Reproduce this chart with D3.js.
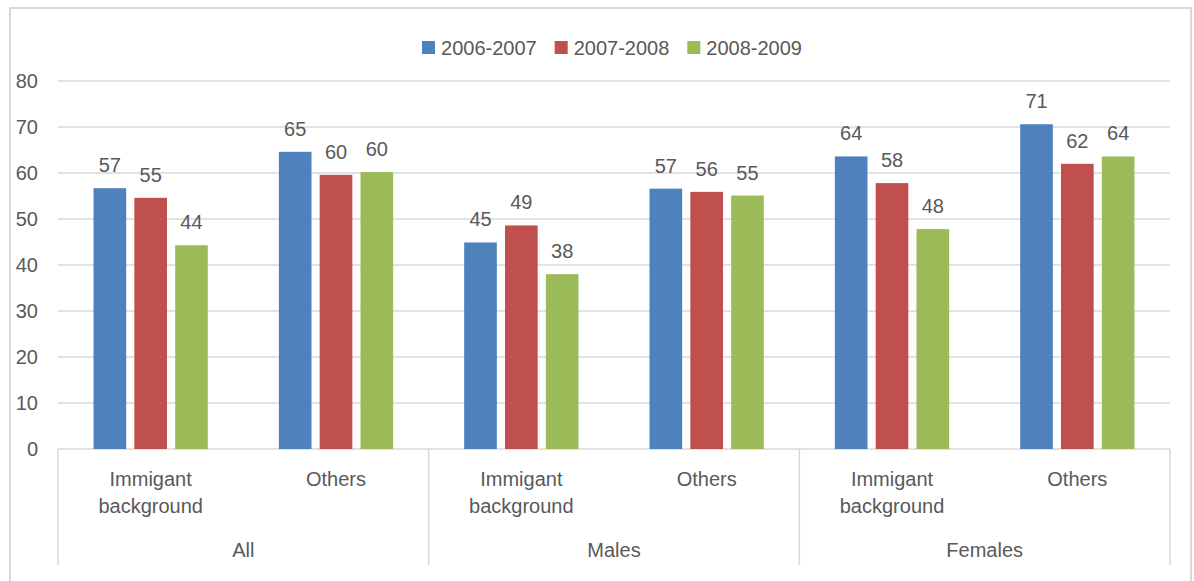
<!DOCTYPE html>
<html>
<head>
    <title>Bars by group</title>
    <meta charset="utf-8">
</head>
<body style="margin:0;background:#fff;">
<style>
    text {
        font-family: "Liberation Sans", Arial, sans-serif;
        fill: #595959;
    }
</style>
<script src="https://d3js.org/d3.v7.min.js"></script>
<script>
    // chart data
    const groups = ['All', 'Males', 'Females'];
    const subgroups = ['Immigant background', 'Others'];
    const seriesNames = ['2006-2007', '2007-2008', '2008-2009'];
    const values0607 = [56.7, 64.6, 44.9, 56.6, 63.6, 70.6];
    const values0708 = [54.6, 59.6, 48.6, 55.9, 57.8, 62.0];
    const values0809 = [44.3, 60.2, 38.0, 55.1, 47.8, 63.6];
    const yTicks = [0, 10, 20, 30, 40, 50, 60, 70, 80];
    const colors = ['#4F81BD', '#C0504D', '#9BBB59'];

    const SIZES = {
        WIDTH: 1194,
        HEIGHT: 581,
        LEFT: 58,
        RIGHT: 1170,
        TOP: 81,
        BOTTOM: 449,
        FONT: 20
    };

    const allSeries = [values0607, values0708, values0809];

    // one slot per (group, subgroup)
    const cats = [];
    groups.forEach(g => subgroups.forEach(s => cats.push(g + '|' + s)));

    const svg = d3.select('body').append('svg')
        .attr('width', SIZES.WIDTH)
        .attr('height', SIZES.HEIGHT);

    // outer frame
    svg.append('rect')
        .attr('x', 10).attr('y', 8)
        .attr('width', 1181).attr('height', 590)
        .attr('fill', 'none')
        .attr('stroke', '#d9d9d9')
        .attr('stroke-width', 2);

    const x = d3.scaleBand().domain(cats).range([SIZES.LEFT, SIZES.RIGHT]);
    const xInner = d3.scaleBand().domain(seriesNames)
        .range([0, x.bandwidth()])
        .paddingInner(0.2)
        .paddingOuter(0.87);
    const y = d3.scaleLinear().domain([0, 80]).range([SIZES.BOTTOM, SIZES.TOP]);

    // gridlines
    svg.append('g').selectAll('line')
        .data(yTicks)
        .enter().append('line')
        .attr('x1', SIZES.LEFT).attr('x2', SIZES.RIGHT)
        .attr('y1', d => y(d)).attr('y2', d => y(d))
        .attr('stroke', '#d9d9d9')
        .attr('stroke-width', 1.5);

    // y axis labels
    svg.append('g').selectAll('text')
        .data(yTicks)
        .enter().append('text')
        .attr('x', 38)
        .attr('y', d => y(d))
        .attr('dy', '0.35em')
        .attr('text-anchor', 'end')
        .style('font-size', SIZES.FONT + 'px')
        .text(d => d);

    // bars + labels
    const barData = [];
    allSeries.forEach((vals, si) => vals.forEach((v, ci) => barData.push({cat: cats[ci], series: seriesNames[si], si, v})));

    svg.append('g').selectAll('rect')
        .data(barData)
        .enter().append('rect')
        .attr('x', d => x(d.cat) + xInner(d.series))
        .attr('y', d => y(d.v))
        .attr('width', xInner.bandwidth())
        .attr('height', d => y(0) - y(d.v))
        .attr('fill', d => colors[d.si]);

    svg.append('g').selectAll('text')
        .data(barData)
        .enter().append('text')
        .attr('x', d => x(d.cat) + xInner(d.series) + xInner.bandwidth() / 2)
        .attr('y', d => y(d.v) - 16)
        .attr('text-anchor', 'middle')
        .style('font-size', SIZES.FONT + 'px')
        .text(d => Math.round(d.v));

    // group separators
    const groupWidth = x.bandwidth() * subgroups.length;
    const sepX = d3.range(groups.length + 1).map(i => SIZES.LEFT + i * groupWidth);
    svg.append('g').selectAll('line')
        .data(sepX)
        .enter().append('line')
        .attr('x1', d => d).attr('x2', d => d)
        .attr('y1', SIZES.BOTTOM).attr('y2', 565)
        .attr('stroke', '#d9d9d9')
        .attr('stroke-width', 1.5);

    // subgroup labels
    const catLabels = svg.append('g').selectAll('text')
        .data(cats)
        .enter().append('text')
        .attr('x', d => x(d) + x.bandwidth() / 2)
        .attr('y', 486)
        .attr('text-anchor', 'middle')
        .style('font-size', SIZES.FONT + 'px');
    catLabels.each(function (d) {
        const words = d.split('|')[1].split(' ');
        const el = d3.select(this);
        words.forEach((w, i) => {
            el.append('tspan')
                .attr('x', el.attr('x'))
                .attr('dy', i === 0 ? 0 : 27)
                .text(w);
        });
    });

    // group labels
    svg.append('g').selectAll('text')
        .data(groups)
        .enter().append('text')
        .attr('x', (d, i) => SIZES.LEFT + (i + 0.5) * groupWidth)
        .attr('y', 557)
        .attr('text-anchor', 'middle')
        .style('font-size', SIZES.FONT + 'px')
        .text(d => d);

    // legend, centred over the plot
    const legend = svg.append('g');
    const items = legend.selectAll('g')
        .data(seriesNames)
        .enter().append('g');
    items.append('rect')
        .attr('width', 13).attr('height', 13)
        .attr('y', 41)
        .attr('fill', (d, i) => colors[i]);
    items.append('text')
        .attr('x', 19)
        .attr('y', 47.5)
        .attr('dy', '0.35em')
        .style('font-size', SIZES.FONT + 'px')
        .text(d => d);

    let offset = 0;
    const widths = [];
    items.each(function () {
        widths.push(19 + d3.select(this).select('text').node().getComputedTextLength());
    });
    const total = d3.sum(widths) + 18 * (widths.length - 1);
    const start = 612 - total / 2;
    items.attr('transform', (d, i) => {
        const t = `translate(${start + offset},0)`;
        offset += widths[i] + 18;
        return t;
    });
</script>
</body>
</html>
